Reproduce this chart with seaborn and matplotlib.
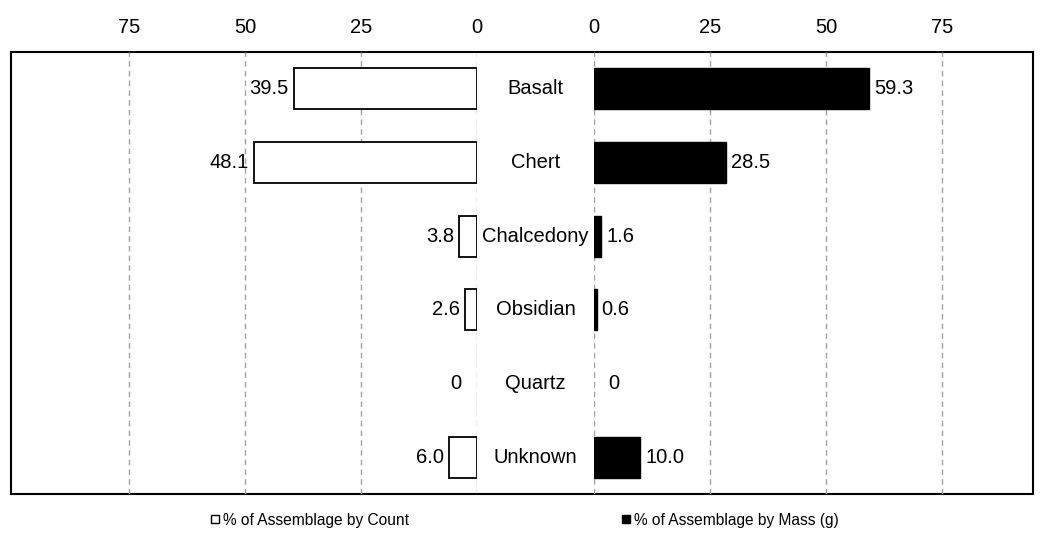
import numpy as np
import pandas as pd
import seaborn as sns
import matplotlib
matplotlib.use('agg')
import matplotlib.pyplot as plt
from matplotlib.lines import Line2D
from matplotlib.transforms import blended_transform_factory

materials = ["Basalt", "Chert", "Chalcedony", "Obsidian", "Quartz", "Unknown"]
pct_count = [39.5, 48.1, 3.8, 2.6, 0, 6.0]
pct_mass = [59.3, 28.5, 1.6, 0.6, 0, 10.0]
count_labels = ["39.5", "48.1", "3.8", "2.6", "0", "6.0"]
mass_labels = ["59.3", "28.5", "1.6", "0.6", "0", "10.0"]
ticks = [0, 25, 50, 75]

sns.set_style("white")
plt.rcParams['font.family'] = ['Liberation Sans', 'DejaVu Sans']
plt.rcParams['text.color'] = 'black'
plt.rcParams['xtick.color'] = 'black'
plt.rcParams['xtick.labelcolor'] = 'black'

df = pd.DataFrame({"material": materials, "count": pct_count, "mass": pct_mass})

W, H = 1043, 535
fig = plt.figure(figsize=(W / 100, H / 100), dpi=100)

def rect(x0, x1, y0, y1):
    return [x0 / W, 1 - y1 / H, (x1 - x0) / W, (y1 - y0) / H]

# outer box
ax_box = fig.add_axes(rect(11, 1033, 52, 494))
ax_box.set_xticks([])
ax_box.set_yticks([])
for s in ax_box.spines.values():
    s.set_color("black")
    s.set_linewidth(1.5)

ax_l = fig.add_axes(rect(11, 477, 52, 494))
ax_r = fig.add_axes(rect(594, 1033, 52, 494))

sns.barplot(data=df, x="count", y="material", ax=ax_l, color="white",
            edgecolor="black", linewidth=1.3, width=0.56, orient="h")
sns.barplot(data=df, x="mass", y="material", ax=ax_r, color="black",
            edgecolor="black", linewidth=1.0, width=0.56, orient="h")

ax_l.set_xlim(100.4, 0)
ax_r.set_xlim(0, 94.6)

# padding for the zero labels (Excel pushes them away from the axis)
zero_pad = {ax_l: 19.5, ax_r: 10}

for ax, labels in [(ax_l, count_labels), (ax_r, mass_labels)]:
    ax.patch.set_alpha(0)
    ax.set_xticks(ticks)
    ax.xaxis.tick_top()
    ax.tick_params(axis="x", length=0, labelsize=14.5, pad=11)
    ax.set_yticks([])
    ax.set_xlabel("")
    ax.set_ylabel("")
    ax.set_ylim(5.5, -0.5)
    for s in ax.spines.values():
        s.set_visible(False)
    ax.grid(axis="x", color="#a0a0a0", linestyle=(0, (4, 3)), linewidth=1.0)
    ax.set_axisbelow(True)
    bars = ax.containers[0]
    for p in bars:
        if p.get_width() == 0:
            p.set_linewidth(0)
    ax.bar_label(bars, labels=[l if l != "0" else "" for l in labels],
                 padding=3.5, fontsize=14.5)
    ax.bar_label(bars, labels=[l if l == "0" else "" for l in labels],
                 padding=zero_pad[ax], fontsize=14.5)

# category names in the middle
trans = blended_transform_factory(fig.transFigure, ax_l.transData)
for i, name in enumerate(materials):
    ax_l.text(535.5 / W, i, name, transform=trans,
              ha="center", va="center", fontsize=14.5)

handles = [
    Line2D([], [], marker="s", linestyle="none", markerfacecolor="white",
           markeredgecolor="black", markersize=5.5, markeredgewidth=1.0),
    Line2D([], [], marker="s", linestyle="none", markerfacecolor="black",
           markeredgecolor="black", markersize=5.5),
]
fig.legend(handles, ["% of Assemblage by Count", "% of Assemblage by Mass (g)"],
           loc="center", bbox_to_anchor=(523 / W, 1 - 520 / H), ncol=2,
           frameon=False, fontsize=11.2, handletextpad=0.0, columnspacing=13.5,
           handlelength=1.0)

fig.savefig("out.png", dpi=100)
